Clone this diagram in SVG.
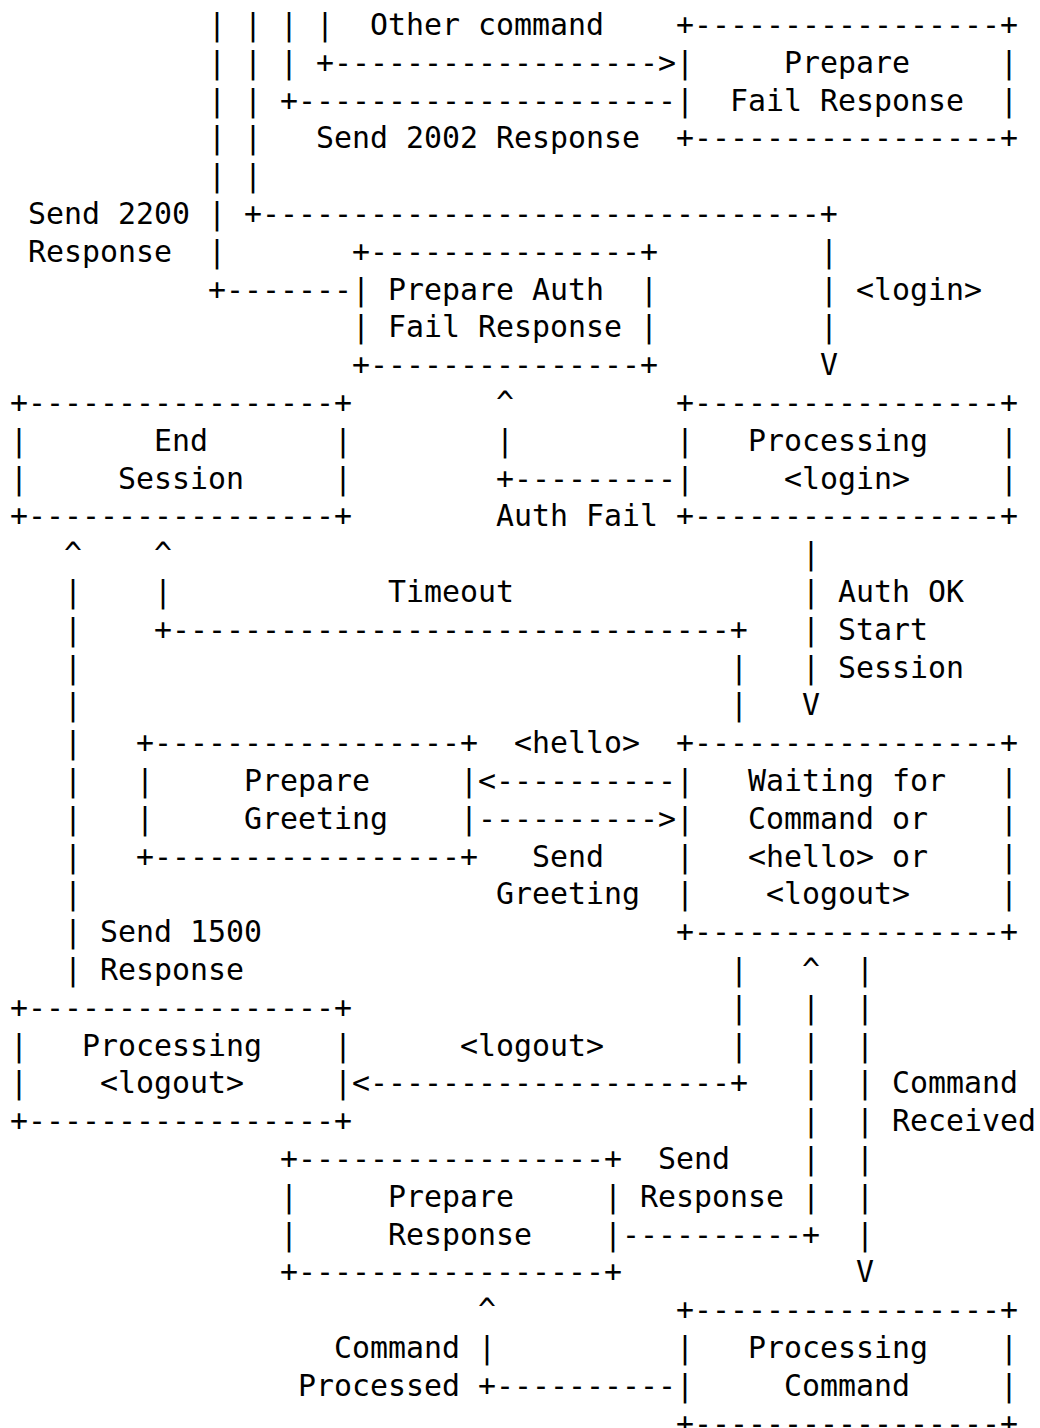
<svg xmlns="http://www.w3.org/2000/svg" width="1040" height="1428" viewBox="0 0 1040 1428">
<style>
.t{font-family:"DejaVu Sans Mono","Liberation Mono",monospace;font-size:29.9px;fill:#000;white-space:pre}
</style>
<rect width="1040" height="1428" fill="#fff"/>
<g id="connectors" class="t">
<text x="208" y="35">|</text><text x="244" y="35">|</text><text x="280" y="35">|</text><text x="316" y="35">|</text>
<text x="208" y="72.8">|</text><text x="244" y="72.8">|</text><text x="280" y="72.8">|</text><text x="316" y="72.8">+------------------&gt;</text>
<text x="208" y="110.6">|</text><text x="244" y="110.6">|</text><text x="280" y="110.6">+---------------------</text>
<text x="208" y="148.4">|</text><text x="244" y="148.4">|</text>
<text x="208" y="186.2">|</text><text x="244" y="186.2">|</text>
<text x="208" y="224">|</text><text x="244" y="224">+-------------------------------+</text>
<text x="208" y="261.8">|</text><text x="820" y="261.8">|</text>
<text x="208" y="299.6">+-------</text><text x="820" y="299.6">|</text>
<text x="820" y="337.4">|</text>
<text x="820" y="375.2">V</text>
<text x="496" y="413">^</text>
<text x="496" y="450.8">|</text>
<text x="496" y="488.6">+---------</text>
<text x="64" y="564.2">^</text><text x="154" y="564.2">^</text><text x="802" y="564.2">|</text>
<text x="64" y="602">|</text><text x="154" y="602">|</text><text x="802" y="602">|</text>
<text x="64" y="639.8">|</text><text x="154" y="639.8">+-------------------------------+</text><text x="802" y="639.8">|</text>
<text x="64" y="677.6">|</text><text x="730" y="677.6">|</text><text x="802" y="677.6">|</text>
<text x="64" y="715.4">|</text><text x="730" y="715.4">|</text><text x="802" y="715.4">V</text>
<text x="64" y="753.2">|</text>
<text x="64" y="791">|</text><text x="478" y="791">&lt;----------</text>
<text x="64" y="828.8">|</text><text x="478" y="828.8">----------&gt;</text>
<text x="64" y="866.6">|</text>
<text x="64" y="904.4">|</text>
<text x="64" y="942.2">|</text>
<text x="64" y="980">|</text><text x="730" y="980">|</text><text x="802" y="980">^</text><text x="856" y="980">|</text>
<text x="730" y="1017.8">|</text><text x="802" y="1017.8">|</text><text x="856" y="1017.8">|</text>
<text x="730" y="1055.6">|</text><text x="802" y="1055.6">|</text><text x="856" y="1055.6">|</text>
<text x="352" y="1093.4">&lt;--------------------+</text><text x="802" y="1093.4">|</text><text x="856" y="1093.4">|</text>
<text x="802" y="1131.2">|</text><text x="856" y="1131.2">|</text>
<text x="802" y="1169">|</text><text x="856" y="1169">|</text>
<text x="802" y="1206.8">|</text><text x="856" y="1206.8">|</text>
<text x="622" y="1244.6">----------+</text><text x="856" y="1244.6">|</text>
<text x="856" y="1282.4">V</text>
<text x="478" y="1320.2">^</text>
<text x="478" y="1358">|</text>
<text x="478" y="1395.8">+----------</text>
</g>
<g id="edge-labels" class="t">
<text x="370" y="35">Other command</text>
<text x="316" y="148.4">Send 2002 Response</text>
<text x="28" y="224">Send 2200</text>
<text x="28" y="261.8">Response</text>
<text x="856" y="299.6">&lt;login&gt;</text>
<text x="496" y="526.4">Auth Fail</text>
<text x="388" y="602">Timeout</text>
<text x="838" y="602">Auth OK</text>
<text x="838" y="639.8">Start</text>
<text x="838" y="677.6">Session</text>
<text x="514" y="753.2">&lt;hello&gt;</text>
<text x="532" y="866.6">Send</text>
<text x="496" y="904.4">Greeting</text>
<text x="100" y="942.2">Send 1500</text>
<text x="100" y="980">Response</text>
<text x="460" y="1055.6">&lt;logout&gt;</text>
<text x="892" y="1093.4">Command</text>
<text x="892" y="1131.2">Received</text>
<text x="658" y="1169">Send</text>
<text x="640" y="1206.8">Response</text>
<text x="334" y="1358">Command</text>
<text x="298" y="1395.8">Processed</text>
</g>
<g id="node-prepare-fail-response" class="t">
<text x="676" y="35">+-----------------+</text>
<text x="676" y="72.8">|</text><text x="784" y="72.8">Prepare</text><text x="1000" y="72.8">|</text>
<text x="676" y="110.6">|</text><text x="730" y="110.6">Fail Response</text><text x="1000" y="110.6">|</text>
<text x="676" y="148.4">+-----------------+</text>
</g>
<g id="node-prepare-auth-fail-response" class="t">
<text x="352" y="261.8">+---------------+</text>
<text x="352" y="299.6">|</text><text x="388" y="299.6">Prepare Auth</text><text x="640" y="299.6">|</text>
<text x="352" y="337.4">|</text><text x="388" y="337.4">Fail Response</text><text x="640" y="337.4">|</text>
<text x="352" y="375.2">+---------------+</text>
</g>
<g id="node-end-session" class="t">
<text x="10" y="413">+-----------------+</text>
<text x="10" y="450.8">|</text><text x="154" y="450.8">End</text><text x="334" y="450.8">|</text>
<text x="10" y="488.6">|</text><text x="118" y="488.6">Session</text><text x="334" y="488.6">|</text>
<text x="10" y="526.4">+-----------------+</text>
</g>
<g id="node-processing-login" class="t">
<text x="676" y="413">+-----------------+</text>
<text x="676" y="450.8">|</text><text x="748" y="450.8">Processing</text><text x="1000" y="450.8">|</text>
<text x="676" y="488.6">|</text><text x="784" y="488.6">&lt;login&gt;</text><text x="1000" y="488.6">|</text>
<text x="676" y="526.4">+-----------------+</text>
</g>
<g id="node-prepare-greeting" class="t">
<text x="136" y="753.2">+-----------------+</text>
<text x="136" y="791">|</text><text x="244" y="791">Prepare</text><text x="460" y="791">|</text>
<text x="136" y="828.8">|</text><text x="244" y="828.8">Greeting</text><text x="460" y="828.8">|</text>
<text x="136" y="866.6">+-----------------+</text>
</g>
<g id="node-waiting" class="t">
<text x="676" y="753.2">+-----------------+</text>
<text x="676" y="791">|</text><text x="748" y="791">Waiting for</text><text x="1000" y="791">|</text>
<text x="676" y="828.8">|</text><text x="748" y="828.8">Command or</text><text x="1000" y="828.8">|</text>
<text x="676" y="866.6">|</text><text x="748" y="866.6">&lt;hello&gt; or</text><text x="1000" y="866.6">|</text>
<text x="676" y="904.4">|</text><text x="766" y="904.4">&lt;logout&gt;</text><text x="1000" y="904.4">|</text>
<text x="676" y="942.2">+-----------------+</text>
</g>
<g id="node-processing-logout" class="t">
<text x="10" y="1017.8">+-----------------+</text>
<text x="10" y="1055.6">|</text><text x="82" y="1055.6">Processing</text><text x="334" y="1055.6">|</text>
<text x="10" y="1093.4">|</text><text x="100" y="1093.4">&lt;logout&gt;</text><text x="334" y="1093.4">|</text>
<text x="10" y="1131.2">+-----------------+</text>
</g>
<g id="node-prepare-response" class="t">
<text x="280" y="1169">+-----------------+</text>
<text x="280" y="1206.8">|</text><text x="388" y="1206.8">Prepare</text><text x="604" y="1206.8">|</text>
<text x="280" y="1244.6">|</text><text x="388" y="1244.6">Response</text><text x="604" y="1244.6">|</text>
<text x="280" y="1282.4">+-----------------+</text>
</g>
<g id="node-processing-command" class="t">
<text x="676" y="1320.2">+-----------------+</text>
<text x="676" y="1358">|</text><text x="748" y="1358">Processing</text><text x="1000" y="1358">|</text>
<text x="676" y="1395.8">|</text><text x="784" y="1395.8">Command</text><text x="1000" y="1395.8">|</text>
<text x="676" y="1433.6">+-----------------+</text>
</g>
</svg>
